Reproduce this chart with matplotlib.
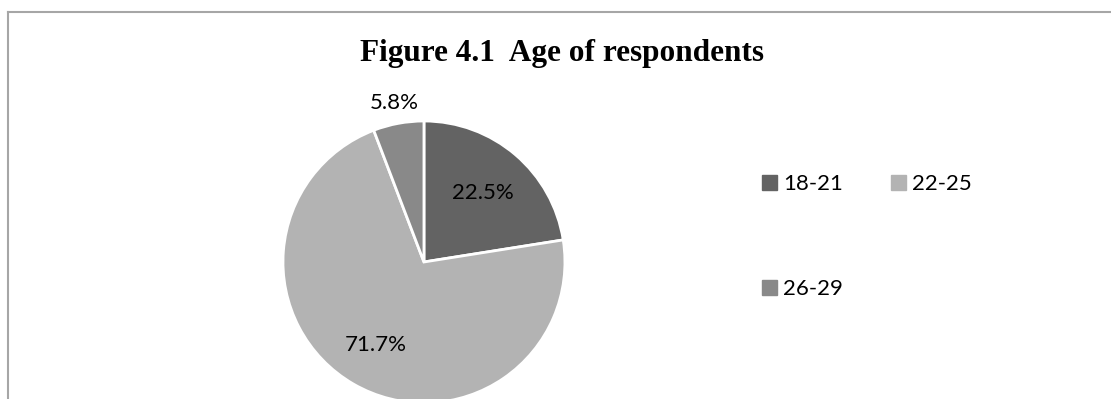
import matplotlib
matplotlib.use("Agg")
import matplotlib.pyplot as plt
from matplotlib.lines import Line2D
import numpy as np

categories = ["18-21", "22-25", "26-29"]
shares = [22.5, 71.7, 5.8]
colors = ["#636363", "#b3b3b3", "#898989"]
label_dist = [0.64, 0.68, 1.15]

fig = plt.figure(figsize=(11.11, 3.99), dpi=100)

# chart border (top and left only visible)
fig.add_artist(Line2D([8/1111, 1], [1 - 12/399, 1 - 12/399], color="#a6a6a6", lw=1.5))
fig.add_artist(Line2D([8/1111, 8/1111], [0, 1 - 12/399], color="#a6a6a6", lw=1.5))

fig.text(562/1111, 1 - 53/399, "Figure 4.1  Age of respondents",
         family="Liberation Serif", weight="bold", fontsize=22.5,
         ha="center", va="center")

ax = fig.add_axes([0.2547, -0.01, 0.2538, 0.7068])
wedges, _ = ax.pie(shares, colors=colors, startangle=90, counterclock=False,
                   wedgeprops=dict(edgecolor="white", linewidth=2))
ax.set_xlim(-1, 1)
ax.set_ylim(-1, 1)
ax.set_aspect("equal")
ax.axis("off")
for w in wedges:
    w.set_clip_on(False)

for w, v, d in zip(wedges, shares, label_dist):
    ang = np.deg2rad((w.theta1 + w.theta2) / 2)
    ax.text(d * np.cos(ang), d * np.sin(ang), f"{v}%", ha="center", va="center",
            family="Lato", fontsize=16, clip_on=False)

# legend fills column-first, so reorder to get 18-21, 22-25 on the first row
order = [0, 2, 1]
handles = [plt.Rectangle((0, 0), 1, 1, color=colors[i]) for i in order]
labels = [categories[i] for i in order]
fig.legend(handles, labels, ncol=2, loc="upper left",
           bbox_to_anchor=(762/1111, 1 - 174/399), frameon=False,
           prop=dict(family="Lato", size=16), handlelength=0.68, handleheight=0.68,
           handletextpad=0.27, columnspacing=2.16, labelspacing=3.83,
           borderpad=0, borderaxespad=0)

fig.savefig("out.png", dpi=100)
